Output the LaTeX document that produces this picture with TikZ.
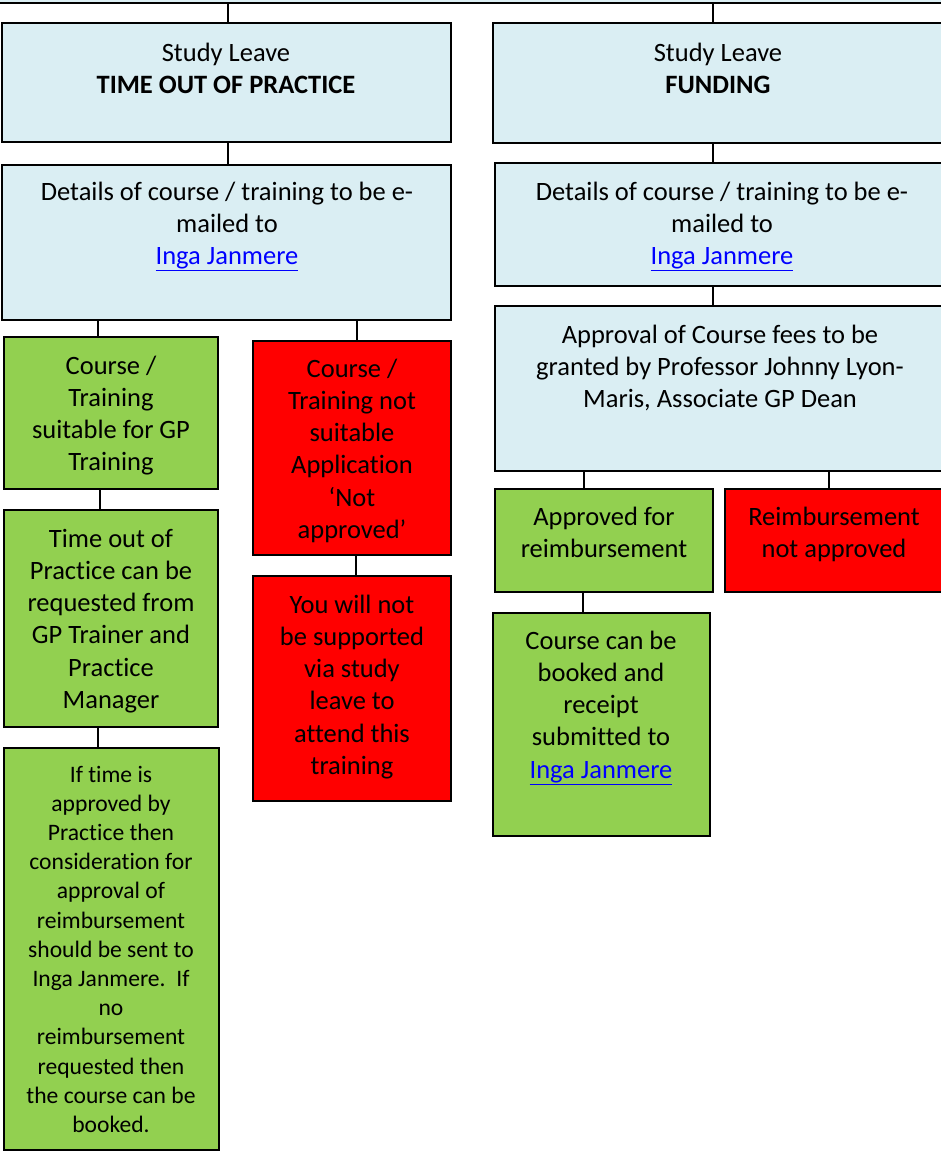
\documentclass[tikz,border=0pt]{standalone}
\usepackage{fontspec}
\setmainfont[Ligatures=NoCommon]{Carlito}
\usetikzlibrary{fit}
\definecolor{lblue}{HTML}{DAEEF3}
\definecolor{lgreen}{HTML}{92D050}
\definecolor{lred}{HTML}{FF0000}
\definecolor{link}{HTML}{0000FF}
\newcommand{\lnk}[1]{\textcolor{link}{\underline{#1}}}
\begin{document}
\begin{tikzpicture}[x=1pt,y=-1pt,
  box/.style={draw=black, line width=1.6pt, inner sep=0pt},
  bluebox/.style={box, fill=lblue},
  greenbox/.style={box, fill=lgreen},
  redbox/.style={box, fill=lred},
  txt/.style={align=center, inner sep=0pt, anchor=base, font=\fontsize{26.5}{32.3}\selectfont},
  smalltxt/.style={align=center, inner sep=0pt, anchor=base, font=\fontsize{23.6}{29.2}\selectfont},
  conn/.style={draw=black, line width=1.6pt}]
\useasboundingbox (0,0) rectangle (941,1151);
% boxes
\node[bluebox, fit={(-10,-20)(951,3)}] (top) {};
\node[bluebox, fit={(2,23)(451,142)}] (slL) {};
\node[bluebox, fit={(493,23)(950,143)}] (slR) {};
\node[bluebox, fit={(2,165)(451,320)}] (detL) {};
\node[bluebox, fit={(495,163)(950,286)}] (detR) {};
\node[bluebox, fit={(495,306)(950,471)}] (appr) {};
\node[greenbox, fit={(4,337)(218,489)}] (suit) {};
\node[redbox, fit={(253,341)(451,555)}] (nots) {};
\node[greenbox, fit={(4,510)(218,727)}] (time) {};
\node[redbox, fit={(253,576)(451,801)}] (nsup) {};
\node[greenbox, fit={(4,748)(219,1150)}] (iftime) {};
\node[greenbox, fit={(495,489)(713,592)}] (apok) {};
\node[redbox, fit={(725,489)(950,592)}] (apno) {};
\node[greenbox, fit={(493,613)(710,836)}] (book) {};
% texts (anchor = baseline of the last line)
\node[txt] (slLt) at (226,93.3) {Study Leave\\\textbf{TIME OUT OF PRACTICE}};
\node[txt] (slRt) at (718,93.3) {Study Leave\\\textbf{FUNDING}};
\node[txt] (detLt) at (227,264.6) {Details of course / training to be e-\\mailed to\\\lnk{Inga Janmere}};
\node[txt] (detRt) at (722,264.6) {Details of course / training to be e-\\mailed to\\\lnk{Inga Janmere}};
\node[txt] (apprt) at (720,407.6) {Approval of Course fees to be\\granted by Professor Johnny Lyon-\\Maris, Associate GP Dean};
\node[txt] (suitt) at (111,470.9) {Course /\\Training\\suitable for GP\\Training};
\node[txt] (notst) at (352,538.5) {Course /\\Training not\\suitable\\Application\\‘Not\\approved’};
\node[txt] (timet) at (111,708.5) {Time out of\\Practice can be\\requested from\\GP Trainer and\\Practice\\Manager};
\node[txt] (nsupt) at (352,774.5) {You will not\\be supported\\via study\\leave to\\attend this\\training};
\node[smalltxt] (iftimet) at (111,1132.4) {If time is\\approved by\\Practice then\\consideration for\\approval of\\reimbursement\\should be sent to\\Inga Janmere.\ \ If\\no\\reimbursement\\requested then\\the course can be\\booked.};
\node[txt] (apokt) at (604,557.3) {Approved for\\reimbursement};
\node[txt] (apnot) at (834,557.3) {Reimbursement\\not approved};
\node[txt] (bookt) at (601,778.2) {Course can be\\booked and\\receipt\\submitted to\\\lnk{Inga Janmere}};
% connectors
\draw[conn] ([xshift=1.5pt]slL.north |- top.south) -- ([xshift=1.5pt]slL.north);
\draw[conn] ([xshift=-8.5pt]slR.north |- top.south) -- ([xshift=-8.5pt]slR.north);
\draw[conn] ([xshift=1.5pt]detL.north |- slL.south) -- ([xshift=1.5pt]detL.north);
\draw[conn] ([xshift=-9.5pt]detR.north |- slR.south) -- ([xshift=-9.5pt]detR.north);
\draw[conn] ([xshift=-9.5pt]appr.north |- detR.south) -- ([xshift=-9.5pt]appr.north);
\draw[conn] ([xshift=-13pt]suit.north |- detL.south) -- ([xshift=-13pt]suit.north);
\draw[conn] ([xshift=5pt]nots.north |- detL.south) -- ([xshift=5pt]nots.north);
\draw[conn] ([xshift=-11pt]time.north |- suit.south) -- ([xshift=-11pt]time.north);
\draw[conn] ([xshift=-13.5pt]iftime.north |- time.south) -- ([xshift=-13.5pt]iftime.north);
\draw[conn] ([xshift=4pt]nsup.north |- nots.south) -- ([xshift=4pt]nsup.north);
\draw[conn] ([xshift=-20pt]apok.north |- appr.south) -- ([xshift=-20pt]apok.north);
\draw[conn] ([xshift=-8.5pt]apno.north |- appr.south) -- ([xshift=-8.5pt]apno.north);
\draw[conn] ([xshift=-18.5pt]book.north |- apok.south) -- ([xshift=-18.5pt]book.north);
\end{tikzpicture}
\end{document}
